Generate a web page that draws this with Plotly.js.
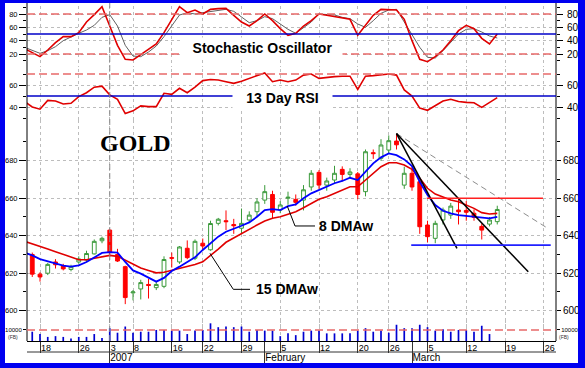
<!DOCTYPE html>
<html><head><meta charset="utf-8">
<script src="https://cdn.plot.ly/plotly-3.0.1.min.js"></script>
<style>
html,body{margin:0;padding:0;background:#fff;}
#wrap{position:relative;width:585px;height:368px;overflow:hidden;}
#chart{width:585px;height:368px;}
#frame{position:absolute;left:0;top:0;width:585px;height:368px;box-sizing:border-box;border-style:solid;border-color:#0000f0;border-width:3px 7px 5px 5px;pointer-events:none;}
</style>
</head><body><div id="wrap"><div id="chart"></div><div id="frame"></div></div>
<script>
// ---------- DATA ----------
const tradingDays = [
 '2006-12-14','2006-12-15','2006-12-18','2006-12-19','2006-12-20','2006-12-21','2006-12-22',
 '2006-12-26','2006-12-27','2006-12-28','2006-12-29',
 '2007-01-03','2007-01-04','2007-01-05',
 '2007-01-08','2007-01-09','2007-01-10','2007-01-11','2007-01-12',
 '2007-01-16','2007-01-17','2007-01-18','2007-01-19',
 '2007-01-22','2007-01-23','2007-01-24','2007-01-25','2007-01-26',
 '2007-01-29','2007-01-30','2007-01-31','2007-02-01','2007-02-02',
 '2007-02-05','2007-02-06','2007-02-07','2007-02-08','2007-02-09',
 '2007-02-12','2007-02-13','2007-02-14','2007-02-15','2007-02-16',
 '2007-02-20','2007-02-21','2007-02-22','2007-02-23',
 '2007-02-26','2007-02-27','2007-02-28','2007-03-01','2007-03-02',
 '2007-03-05','2007-03-06','2007-03-07','2007-03-08','2007-03-09',
 '2007-03-12','2007-03-13','2007-03-14','2007-03-15','2007-03-16',
 '2007-03-19','2007-03-20','2007-03-21','2007-03-22','2007-03-23',
 '2007-03-26','2007-03-27','2007-03-28','2007-03-29','2007-03-30'];

const candleDates = tradingDays.slice(1, 62);      // Dec 15 .. Mar 16
const indicatorDates = tradingDays.slice(0, 62);   // Dec 14 .. Mar 16
const volumeDates = tradingDays.slice(1, 61);      // Dec 15 .. Mar 15

const openP  = [630,619.5,620,626,624,622,626,627,630.3,637.3,643,630,623.5,609.5,611.6,614,612.3,613,628.3,626,633.3,628,636,632.5,646.6,648,646,644,648.4,652.8,659,662,653.7,660,659.4,659,666,673.8,667,669.7,675.4,672.7,673,663.5,684.3,681.3,685.7,690.5,667,673.3,668.8,645.7,638.6,648.4,651,653.7,653.5,652,645,646.2,647.5];
const highP  = [631,620.5,625.5,627.5,625,624.5,629,632,638,639.5,643.5,633,624,611,616.5,617,615.5,629,631,634.5,637.5,638,638.5,648,649.5,653.5,649,654.5,653,660,667,664,658.5,663.5,662,667,675,675,671,677.3,677,676,674,686,686,691.5,693.5,694.5,676.8,677,670,648,648,655,657.5,660,658.5,654,646.6,650,656];
const lowP   = [618,615.5,619,622.5,621.5,621,625,626,630,636,629,626,603.5,605.5,606,606.5,611,612,623,625,627.5,627,632.5,632,645.5,643,641,641.3,647,650,657,649,652,656.5,656,653.5,664,665,664,668,669,671,659.5,661,681,680,684,686,665,664,641,636.5,636,646,649,646,648,648,638,645,646];
const closeP = [619.5,618,624.7,624.5,622.3,623.5,627.6,630.5,637,638.6,631,626.5,607,610,615,613.5,614,627.3,628,634,628.3,637,634.5,646.5,648.8,647.5,645.3,646.6,651,658,663.5,652.5,656.4,660.5,657.8,664.5,673.3,667,669.2,673.3,672.7,674,662,684.8,683.8,688.4,690.7,688.5,673.3,666,644.8,639.5,646.6,653.7,655.8,652.8,652.5,649.8,643,648.4,654];

const volume = [8400,6300,3700,4400,3700,2200,3700,3700,6300,2800,11600,7500,13100,7500,8400,8400,10000,10000,9400,9400,6300,9400,10000,16000,12500,13100,12500,13100,8400,10000,9400,9400,4400,6900,5300,8400,9400,9400,6900,6900,6900,6900,9400,11600,8400,9400,7500,14700,11600,11600,14700,12500,9400,10600,8400,10000,10000,8400,13800,6300];

const dma8  = [631,629.5,627.5,626.3,625,624,623.5,624.2,626,628.5,630.8,631.2,631,626,621.5,619.8,617.5,615.5,617.5,621.2,623.5,626,628.5,632.4,636,639.5,642.1,643.6,645.3,647.1,650.1,653.7,654.2,653.7,655.8,656.7,660,662.6,664.4,666.1,668,669.2,670.9,669.7,674.1,678.6,681.8,683.9,683,680.7,677.2,668.8,661.7,656.4,653.3,651.9,651,650.5,650.1,649.8,649.3,650.1];
const dma15 = [637,635.5,634,632.9,631.5,630,628.5,627.2,627.2,628,629,629.5,629,627,624.7,622.8,621.5,620.2,620.5,621.5,622.5,623.5,624.6,626.1,629.3,632.9,636.5,638.9,641.3,643.6,645.7,647.8,649.3,650.1,651.6,652.8,654.9,657.3,659.4,660.8,662.6,664.4,666.1,666.1,669.7,673.3,676.8,678.9,678.9,677.7,675.4,670.6,665.3,662.2,660.5,659,658.1,656.4,654.6,652.3,651.6,651.9];

const stochK = [28,22,16,26,37,46,46,52,68,79,91,62,33,12,11,19,27,35,52,72,91,82,86,80,87,88,88.5,78,68,62,70,80,70,58,48,51,62,70,80,78,76,75,72,48,63,78,87,87,86,72,40,12,8.5,16,26,40,55,63,58,43.5,35,50];
const stochD = [30,26,21,25,31,40,46,51,56,63,75,79,62,33,17,16,23,32,46,62,78.5,82,80,82,84,86,87,84,76,67,70,76,73,65,57,51,59,68,80,79,78.5,75,73,65,60,70,81,86,87,68,50,30,15,14,25,38,50,57,58,53,47,44];
const rsi13  = [45,40,38,46,45.5,42.7,43.4,49.5,53,58,59,51,47,34,36.5,41,40.3,40.3,52.5,51.5,57,53,58,64,65,64.5,63,61.5,63.5,66,68.5,71,63,64.5,63,64.5,69,70,66,67,67.6,68,68,56,68,68.5,69.5,70,69,55.5,50,39,37,41,45.5,47,45,44.2,43.9,39.7,43.9,48.5];

const weekTickDates = ['2006-12-18','2006-12-26','2007-01-03','2007-01-08','2007-01-16','2007-01-22','2007-01-29','2007-02-05','2007-02-12','2007-02-20','2007-02-26','2007-03-05','2007-03-12','2007-03-19','2007-03-26'];
const weekTickText  = ['18','26','3','8','16','22','29','5','12','20','26','5','12','19','26'];
const monthTickDates = ['2007-01-03','2007-02-01','2007-03-01'];
const monthTickText  = ['2007','February','March'];

const priceTicks = [600,620,640,660,680];
const stochTicks = [20,40,60,80];
const rsiTicks = [40,60];

// analysis lines drawn on the price panel
const trendFrom = ['2007-02-27', 694.5];
const trendTo1 = ['2007-03-09', 633.3, -0.2];
const trendTo2 = ['2007-03-22', 620.8, 0];
const trendTo3 = ['2007-03-26', 644, 0.5];
const resistance = 660, support = 635;

// ---------- LAYOUT HELPERS ----------
const W = 585, H = 368, mL = 27, mR = 29, mT = 0, mB = 27;
const plotW = W - mL - mR, plotH = H - mT - mB;
const fy = py => 1 - (py - mT) / plotH;
const fx = px => (px - mL) / plotW;
const k = d => tradingDays.indexOf(d);
const pxToK = px => (px - 24.5) / 7.75;

const FONT = 'Arial, "Liberation Sans", sans-serif';
const RED = '#e00000', GREEN = '#3a9a3a';

const traces = [
  {type:'candlestick', x: candleDates.map(k), open: openP, high: highP, low: lowP, close: closeP,
   xaxis:'x', yaxis:'y3',
   increasing:{line:{color:GREEN, width:1}, fillcolor:'#ffffff'},
   decreasing:{line:{color:'#ff0000', width:1}, fillcolor:'#ff0000'},
   whiskerwidth:0, hoverinfo:'skip', showlegend:false},
  {type:'scatter', mode:'lines', x: indicatorDates.map(k), y: dma15, xaxis:'x', yaxis:'y3',
   line:{color:RED, width:1.6}, hoverinfo:'skip'},
  {type:'scatter', mode:'lines', x: indicatorDates.map(k), y: dma8, xaxis:'x', yaxis:'y3',
   line:{color:'#0000ff', width:1.8}, hoverinfo:'skip'},
  {type:'scatter', mode:'lines', x: indicatorDates.map(k), y: stochD, xaxis:'x', yaxis:'y',
   line:{color:'#606060', width:1}, hoverinfo:'skip'},
  {type:'scatter', mode:'lines', x: indicatorDates.map(k), y: stochK, xaxis:'x', yaxis:'y',
   line:{color:RED, width:1.6}, hoverinfo:'skip'},
  {type:'scatter', mode:'lines', x: indicatorDates.map(k), y: rsi13, xaxis:'x', yaxis:'y2',
   line:{color:RED, width:1.6}, hoverinfo:'skip'},
  {type:'bar', x: volumeDates.map(k), y: volume, xaxis:'x', yaxis:'y4', width:0.22,
   marker:{color:'#0000d0', line:{width:0}}, hoverinfo:'skip'},
  {type:'scatter', x:[], y:[], xaxis:'x2', yaxis:'y4', hoverinfo:'skip'},
  {type:'scatter', x:[], y:[], xaxis:'x', yaxis:'y5', hoverinfo:'skip'},
  {type:'scatter', x:[], y:[], xaxis:'x', yaxis:'y6', hoverinfo:'skip'},
  {type:'scatter', x:[], y:[], xaxis:'x', yaxis:'y7', hoverinfo:'skip'},
  {type:'scatter', x:[], y:[], xaxis:'x', yaxis:'y8', hoverinfo:'skip'}
];

const xRange = [pxToK(mL), pxToK(W - mR)];
const gridCol = '#bdbdbd';
const stochDom = [fy(67.33), 1], stochRange = [0, 101];
const rsiDom = [fy(120.2), fy(68.5)], rsiRange = [28, 75];
const priceDom = [fy(329.45), fy(120.43)], priceRange = [590, 701.5];
const volDom = [0, fy(320)], volRange = [0, 19000];

function leftAxis(dom, range, tickvals, extra) {
  return Object.assign({domain: dom, range: range, anchor:'x', side:'left', tickmode:'array', tickvals: tickvals,
    ticks:'outside', ticklen:7, tickcolor:'#000', tickwidth:1, showline:false, zeroline:false,
    showgrid:true, gridcolor:gridCol, griddash:'dot', gridwidth:1,
    tickfont:{family:FONT, size:7.5, color:'#000'}, fixedrange:true}, extra || {});
}
function rightAxis(over, range, tickvals, extra) {
  return Object.assign({overlaying: over, range: range, anchor:'x', side:'right', tickmode:'array', tickvals: tickvals,
    ticks:'outside', ticklen:6, tickcolor:'#000', tickwidth:1, showline:false, zeroline:false, showgrid:false,
    tickfont:{family:FONT, size:10, color:'#000'}, fixedrange:true}, extra || {});
}

const layout = {
  width: W, height: H, margin:{l:mL, r:mR, t:mT, b:mB},
  paper_bgcolor:'#ffffff', plot_bgcolor:'rgba(0,0,0,0)', showlegend:false,
  font:{family:FONT, color:'#000'},
  xaxis:{range:xRange, domain:[0,1], anchor:'y4', tickmode:'array', tickvals: weekTickDates.map(k), ticktext: weekTickText,
    ticks:'outside', ticklen:11, tickcolor:'#333', tickwidth:1, ticklabelposition:'outside right', ticklabelstandoff:-2,
    tickfont:{family:FONT, size:9, color:'#000'}, showline:true, linecolor:'#000', linewidth:1, zeroline:false,
    showgrid:true, gridcolor:gridCol, griddash:'dot', gridwidth:1, rangeslider:{visible:false}, fixedrange:true},
  xaxis2:{range:xRange, domain:[0,1], overlaying:'x', anchor:'y4', side:'bottom', tickmode:'array', tickvals: monthTickDates.map(k), ticktext: monthTickText,
    ticks:'outside', ticklen:22, tickcolor:'#333', tickwidth:1, ticklabelposition:'outside right', ticklabelstandoff:7,
    tickfont:{family:FONT, size:10, color:'#000'}, showline:false, showgrid:false, zeroline:false, fixedrange:true},
  yaxis: leftAxis(stochDom, stochRange, stochTicks, {minor:{tickvals:[10,30,50,70,90], ticks:'outside', ticklen:3, tickcolor:'#000', showgrid:false}}),
  yaxis2: leftAxis(rsiDom, rsiRange, rsiTicks, {minor:{tickvals:[30,50,70], ticks:'outside', ticklen:3, tickcolor:'#000', showgrid:false}}),
  yaxis3: leftAxis(priceDom, priceRange, priceTicks, {minor:{tickvals:[590,610,630,650,670,690], ticks:'outside', ticklen:3, tickcolor:'#000', showgrid:false}}),
  yaxis4: leftAxis(volDom, volRange, [10000], {ticktext:['10000'], showgrid:false, tickfont:{family:FONT, size:6, color:'#000'}, ticklen:3}),
  yaxis5: rightAxis('y', stochRange, stochTicks, {ticklabelstandoff:2, minor:{tickvals:[10,30,50,70,90], ticks:'outside', ticklen:3, tickcolor:'#000', showgrid:false}}),
  yaxis6: rightAxis('y2', rsiRange, rsiTicks, {ticklabelstandoff:2, minor:{tickvals:[30,50,70], ticks:'outside', ticklen:3, tickcolor:'#000', showgrid:false}}),
  yaxis7: rightAxis('y3', priceRange, priceTicks, {ticklen:4, minor:{tickvals:[590,610,630,650,670,690], ticks:'outside', ticklen:3, tickcolor:'#000', showgrid:false}}),
  yaxis8: rightAxis('y4', volRange, [10000], {ticktext:['10000'], tickfont:{family:FONT, size:6, color:'#000'}, ticklen:3}),
  shapes: [],
  annotations: []
};

const S = layout.shapes;
S.push({type:'line', xref:'paper', yref:'paper', x0:0, x1:0, y0:0, y1:1, line:{color:'#000', width:1}});
S.push({type:'line', xref:'paper', yref:'paper', x0:1, x1:1, y0:0, y1:1, line:{color:'#000', width:1}});
S.push({type:'line', xref:'paper', yref:'paper', x0:0, x1:1, y0:fy(352), y1:fy(352), line:{color:'#333', width:1}});
const dashRed = {color:'#e86a6a', width:1.5, dash:'8px,4px'};
S.push({type:'line', xref:'paper', yref:'y', x0:0, x1:1, y0:80, y1:80, line:dashRed});
S.push({type:'line', xref:'paper', yref:'y', x0:0, x1:1, y0:20, y1:20, line:dashRed});
S.push({type:'line', xref:'paper', yref:'y', x0:0, x1:1, y0:50, y1:50, line:{color:'#0000c8', width:1.5}});
S.push({type:'line', xref:'paper', yref:'y2', x0:0, x1:1, y0:70, y1:70, line:dashRed});
S.push({type:'line', xref:'paper', yref:'y2', x0:0, x1:1, y0:50, y1:50, line:{color:'#0000c8', width:1.5}});
S.push({type:'line', xref:'paper', yref:'y4', x0:0, x1:1, y0:10000, y1:10000, line:dashRed});
S.push({type:'line', xref:'x', yref:'paper', x0:k('2007-01-03'), x1:k('2007-01-03'), y0:0, y1:1, line:{color:'#8a8a8a', width:1, dash:'6px,3px'}});
const tl = (to, col, dash, w) => ({type:'line', xref:'x', yref:'y3', x0:k(trendFrom[0]), y0:trendFrom[1], x1:k(to[0]) + to[2], y1:to[1], line:{color:col, width:w, dash:dash}});
S.push(tl(trendTo3, '#8c8c8c', '6px,4px', 1));
S.push(tl(trendTo1, '#000', 'solid', 1.5));
S.push(tl(trendTo2, '#000', 'solid', 1.5));
S.push({type:'line', xref:'x', yref:'y3', x0:k('2007-03-05') - 0.1, x1:k('2007-03-26') - 0.1, y0:resistance, y1:resistance, line:{color:'#ff2020', width:1.5}});
S.push({type:'line', xref:'x', yref:'y3', x0:k('2007-03-01') - 0.1, x1:k('2007-03-26') + 0.9, y0:support, y1:support, line:{color:'#2020ff', width:1.8}});
S.push({type:'path', xref:'x', yref:'y3', path:`M ${pxToK(287.3)},655.8 L ${pxToK(295)},645.2 L ${pxToK(315)},645.2`, line:{color:'#000', width:1}});
S.push({type:'path', xref:'x', yref:'y3', path:`M ${pxToK(210)},630.6 L ${pxToK(233.3)},611.4 L ${pxToK(250)},611.4`, line:{color:'#000', width:1}});

const A = layout.annotations;
A.push({xref:'paper', yref:'paper', x:fx(262.5), y:fy(48), text:'Stochastic Oscillator', showarrow:false,
  font:{family:FONT, size:14, color:'#000', weight:'bold'}, bgcolor:'#ffffff', width:155, height:16, borderpad:2, xanchor:'center', yanchor:'middle'});
A.push({xref:'paper', yref:'paper', x:fx(282), y:fy(98.5), text:'13 Day RSI', showarrow:false,
  font:{family:FONT, size:14, color:'#000', weight:'bold'}, bgcolor:'#ffffff', width:95, height:16, borderpad:2, xanchor:'center', yanchor:'middle'});
A.push({xref:'paper', yref:'paper', x:fx(135), y:fy(142.5), text:'GOLD', showarrow:false,
  font:{family:'"Times New Roman", "Liberation Serif", serif', size:24, color:'#000', weight:'bold'}, xanchor:'center', yanchor:'middle'});
A.push({xref:'paper', yref:'paper', x:fx(317), y:fy(226), text:'8 DMAw', showarrow:false,
  font:{family:FONT, size:14, color:'#000', weight:'bold'}, xanchor:'left', yanchor:'middle'});
A.push({xref:'paper', yref:'paper', x:fx(254), y:fy(288.5), text:'15 DMAw', showarrow:false,
  font:{family:FONT, size:14, color:'#000', weight:'bold'}, xanchor:'left', yanchor:'middle'});
A.push({xref:'paper', yref:'paper', x:fx(6), y:fy(337), text:'(FB)', showarrow:false,
  font:{family:FONT, size:5, color:'#333'}, xanchor:'left', yanchor:'middle'});
A.push({xref:'paper', yref:'paper', x:fx(557), y:fy(337), text:'(FB)', showarrow:false,
  font:{family:FONT, size:5, color:'#333'}, xanchor:'left', yanchor:'middle'});

Plotly.newPlot('chart', traces, layout, {staticPlot:true, displayModeBar:false});
</script>
</body></html>
